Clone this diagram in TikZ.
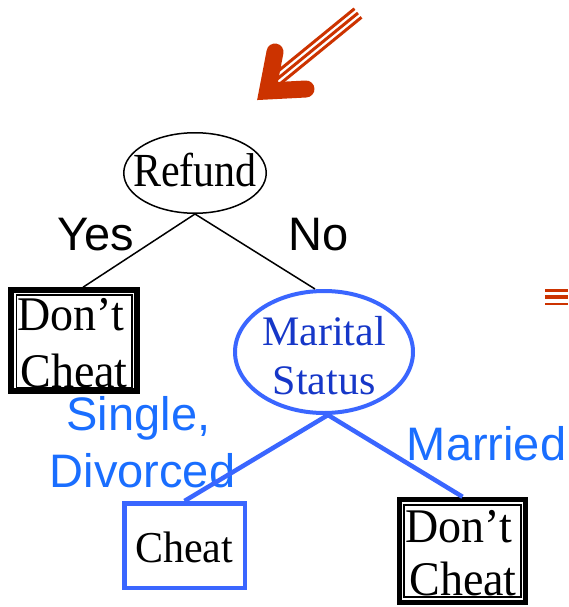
\documentclass[tikz,border=0pt]{standalone}
\usepackage{graphicx}
\usepackage{fontspec}
\setmainfont{Liberation Serif}
\newfontfamily\lsans{Liberation Sans}
\usetikzlibrary{shapes.geometric}
\definecolor{arrowred}{HTML}{CC3300}
\definecolor{edgeblue}{HTML}{3A66FF}
\definecolor{labelblue}{HTML}{1A6EFF}
\definecolor{textblue}{HTML}{1637C8}
\tikzset{
  serif/.style={font=\fontsize{42}{48}\selectfont, inner sep=0pt, anchor=base},
  bigserif/.style={font=\fontsize{46}{52}\selectfont, inner sep=0pt, anchor=base},
  sanslabel/.style={font=\lsans\fontsize{47}{52}\selectfont, inner sep=0pt, anchor=base},
  outerbox/.style={draw=black, line width=5.5pt, inner sep=0pt, minimum width=126pt},
  innerbox/.style={draw=black, line width=1.2pt, inner sep=0pt},
  blackedge/.style={draw=black, line width=1.5pt},
  blueedge/.style={draw=edgeblue, line width=4.5pt},
  stripe/.style={draw=arrowred, line width=3pt},
}
\begin{document}
\begin{tikzpicture}[x=1pt,y=-1pt]
\useasboundingbox (0,0) rectangle (568,607);

% orange arrow
\draw[arrowred, line width=17pt, line cap=round, line join=miter] (275,52) -- (267.5,91) -- (306,89);
\draw[stripe] (272.5,75.7) -- (354.5,8.7);
\draw[stripe] (276,80) -- (358,13);
\draw[stripe] (279.5,84.3) -- (361.5,17.3);

% stripes at right edge
\draw[arrowred, line width=2.7pt] (545,290.7) -- (568,290.7);
\draw[arrowred, line width=4pt] (545,297.3) -- (568,297.3);
\draw[arrowred, line width=2.7pt] (545,304) -- (568,304);

% nodes
\node[draw=black, line width=1.5pt, ellipse, inner sep=0pt, minimum width=142.5pt, minimum height=80.5pt] (refund) at (195,173) {};
\node[serif] (refundtxt) at (195,186.5) {\scalebox{1}[1.13]{Refund}};

\node[outerbox, minimum height=101pt] (dc1) at (74,340.5) {};
\node[innerbox, minimum width=115.5pt, minimum height=93pt] (dc1in) at (74.25,341.5) {};
\node[bigserif] (dc1a) at (71,330) {\scalebox{1}[1.05]{Don’t}};
\node[bigserif] (dc1b) at (74,387) {\scalebox{1}[1.05]{Cheat}};

\node[draw=edgeblue, line width=4pt, ellipse, inner sep=0pt, minimum width=178pt, minimum height=122pt] (marital) at (324,352) {};
\node[serif, text=textblue] (maritala) at (324,345) {Marital};
\node[serif, text=textblue] (maritalb) at (324,394) {Status};

\node[draw=edgeblue, line width=4.5pt, inner sep=0pt, minimum width=120.5pt, minimum height=84.5pt] (cheat) at (184.5,545.5) {};
\node[serif] (cheattxt) at (184,562) {\scalebox{1}[1.05]{Cheat}};

\node[outerbox, minimum height=103pt] (dc2) at (462.5,551) {};
\node[innerbox, minimum width=117pt, minimum height=92pt] (dc2in) at (462.5,551) {};
\node[bigserif] (dc2a) at (459,542) {\scalebox{1}[1.05]{Don’t}};
\node[bigserif] (dc2b) at (463,595) {\scalebox{1}[1.05]{Cheat}};

% labels
\node[sanslabel] (yes) at (95.5,250) {Yes};
\node[sanslabel] (no) at (318.5,250) {No};
\node[sanslabel, text=labelblue] (single) at (138.5,430) {Single,};
\node[sanslabel, text=labelblue] (divorced) at (142.5,487) {Divorced};
\node[sanslabel, text=labelblue] (married) at (486.5,460) {Married};

% edges
\draw[blackedge] (refund.south) -- ([xshift=9pt]dc1.north);
\draw[blackedge] (refund.south) -- ([xshift=-9pt]marital.north);
\draw[blueedge] ([xshift=4pt]marital.south) -- (cheat.north);
\draw[blueedge] ([xshift=4pt]marital.south) -- (dc2.north);
\end{tikzpicture}
\end{document}
